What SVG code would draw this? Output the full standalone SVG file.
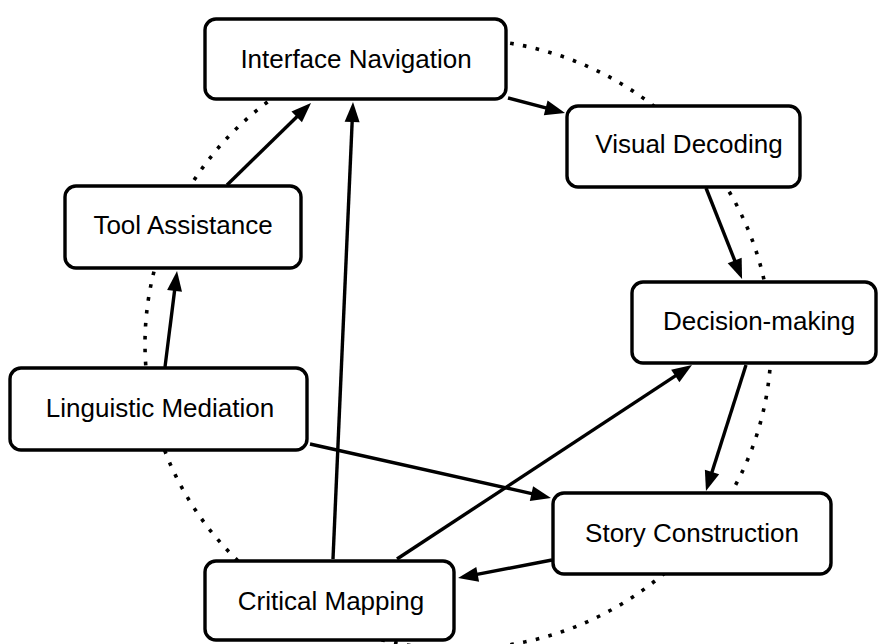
<svg xmlns="http://www.w3.org/2000/svg" width="878" height="644" viewBox="0 0 878 644">
<style>
.bg{fill:#ffffff}
.ring{fill:none;stroke:#000;stroke-width:3.6;stroke-dasharray:3.6 9.4}
.box{fill:#fff;stroke:#000;stroke-width:3.4}
.lbl{font-family:"Liberation Sans",Arial,Helvetica,sans-serif;font-size:26px;fill:#000;text-anchor:middle}
.edge{fill:none;stroke:#000;stroke-width:3.4;marker-end:url(#ah)}
</style>
<defs>
<marker id="ah" markerUnits="userSpaceOnUse" markerWidth="21" markerHeight="16" refX="6" refY="7.5" orient="auto" overflow="visible">
<path d="M0,0 L20,7.5 L0,15 z" fill="#000"/>
</marker>
</defs>
<rect class="bg" x="0" y="0" width="878" height="644"/>
<ellipse class="ring" cx="458" cy="344" rx="313" ry="305"/>
<g id="connectors">
<line class="edge" x1="508" y1="98" x2="551.5" y2="109.4"/>
<line class="edge" x1="706" y1="188" x2="736.9" y2="266"/>
<line class="edge" x1="746" y1="365" x2="710.2" y2="477.7"/>
<line class="edge" x1="552" y1="560" x2="471.8" y2="575.4"/>
<line class="edge" x1="397" y1="559" x2="680.3" y2="372.7"/>
<line class="edge" x1="333" y1="559" x2="352.4" y2="116"/>
<line class="edge" x1="310" y1="444" x2="537.3" y2="494.9"/>
<line class="edge" x1="165" y1="367" x2="175.3" y2="284.9"/>
<line class="edge" x1="227" y1="185" x2="301" y2="112.8"/>
</g>
<g id="interface-navigation">
<rect class="box" x="205" y="19" width="301" height="80" rx="11"/>
<text class="lbl" x="356" y="68">Interface Navigation</text>
</g>
<g id="visual-decoding">
<rect class="box" x="567" y="106" width="233" height="81" rx="11"/>
<text class="lbl" x="689" y="153">Visual Decoding</text>
</g>
<g id="tool-assistance">
<rect class="box" x="65" y="186" width="236" height="82" rx="11"/>
<text class="lbl" x="183" y="234">Tool Assistance</text>
</g>
<g id="decision-making">
<rect class="box" x="632" y="282" width="244" height="81" rx="11"/>
<text class="lbl" x="759" y="330">Decision-making</text>
</g>
<g id="linguistic-mediation">
<rect class="box" x="10" y="368" width="297" height="82" rx="11"/>
<text class="lbl" x="160" y="417">Linguistic Mediation</text>
</g>
<g id="story-construction">
<rect class="box" x="553" y="493" width="278" height="81" rx="11"/>
<text class="lbl" x="692" y="542">Story Construction</text>
</g>
<g id="critical-mapping">
<rect class="box" x="205" y="561" width="249" height="79" rx="11"/>
<text class="lbl" x="331" y="610">Critical Mapping</text>
</g>
</svg>
